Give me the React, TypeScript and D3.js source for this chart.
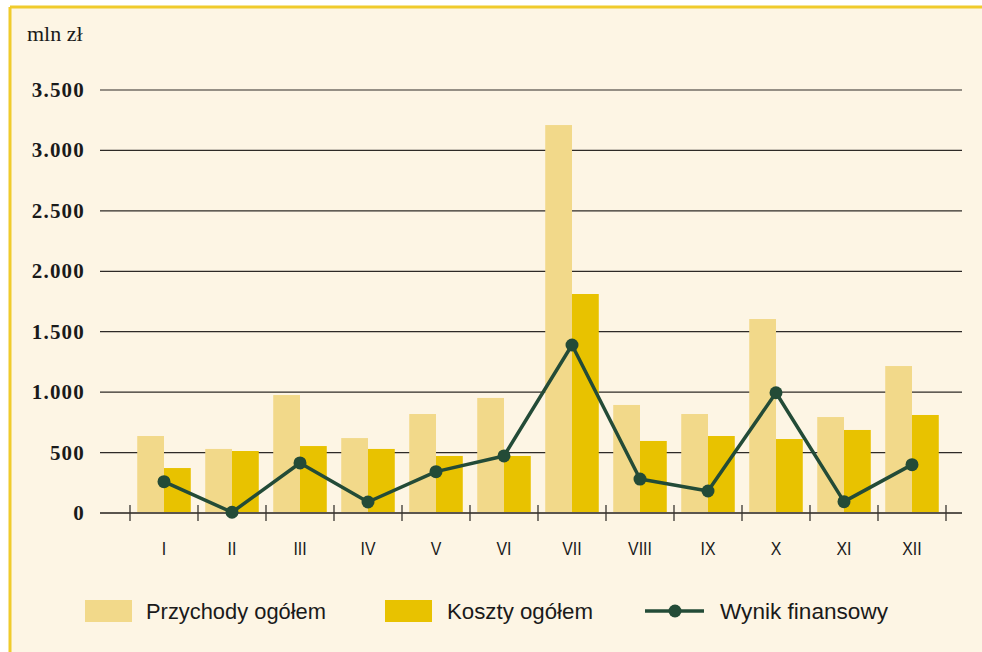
import React, { useEffect, useRef } from 'react';
import * as d3 from 'd3';

const months = ['I', 'II', 'III', 'IV', 'V', 'VI', 'VII', 'VIII', 'IX', 'X', 'XI', 'XII'];
const przychody = [637, 530, 976, 620, 819, 952, 3210, 894, 819, 1605, 794, 1216];
const koszty = [372, 513, 554, 530, 472, 472, 1812, 596, 637, 612, 687, 811];
const wynik = [259, 6, 414, 91, 342, 472, 1390, 281, 182, 995, 94, 400];
const yTicks = [0, 500, 1000, 1500, 2000, 2500, 3000, 3500];
const yTickLabels = ['0', '500', '1.000', '1.500', '2.000', '2.500', '3.000', '3.500'];

const W = 982;
const H = 652;
const BG = '#fdf5e4';
const LIGHT = '#f2d98a';
const DARK = '#e8c200';
const LINE = '#234b37';
const FRAME = '#f0cb2c';

const App: React.FC = () => {
  const svgRef = useRef<SVGSVGElement>(null);

  useEffect(() => {
    if (!svgRef.current) return;
    const svg = d3.select(svgRef.current);
    svg.selectAll('*').remove();

    // background + frame (top and left edges only)
    svg.append('rect').attr('width', W).attr('height', H).attr('fill', '#fff');
    svg.append('rect').attr('x', 10).attr('y', 7).attr('width', W - 10).attr('height', H - 7).attr('fill', BG);
    svg.append('line').attr('x1', 10).attr('y1', 7).attr('x2', W).attr('y2', 7)
      .attr('stroke', FRAME).attr('stroke-width', 3);
    svg.append('line').attr('x1', 10).attr('y1', 7).attr('x2', 10).attr('y2', H)
      .attr('stroke', FRAME).attr('stroke-width', 3);

    const x = d3.scaleBand<string>().domain(months).range([130, 946]).padding(0);
    const x1 = d3.scaleBand<string>().domain(['p', 'k']).range([0, x.bandwidth()])
      .paddingInner(0).paddingOuter(0.27);
    const y = d3.scaleLinear().domain([0, 3500]).range([513, 90]);

    // unit label
    svg.append('text').attr('x', 27).attr('y', 41)
      .attr('font-family', '"Liberation Serif", "DejaVu Serif", serif')
      .attr('font-size', 22).attr('fill', '#1a1a1a').text('mln zł');

    // gridlines
    svg.append('g').selectAll('line').data(yTicks.filter(t => t > 0)).enter().append('line')
      .attr('x1', 100).attr('x2', 962)
      .attr('y1', d => y(d)).attr('y2', d => y(d))
      .attr('stroke', '#2e2a26').attr('stroke-width', 1.2);

    // y labels
    svg.append('g').selectAll('text').data(yTicks).enter().append('text')
      .attr('x', 85).attr('y', d => y(d) + 7)
      .attr('text-anchor', 'end')
      .attr('font-family', '"Liberation Serif", "DejaVu Serif", serif')
      .attr('font-size', 21).attr('font-weight', 'bold').attr('letter-spacing', 1.2)
      .attr('fill', '#1a1a1a')
      .text((d, i) => yTickLabels[i]);

    // bars
    const bars = svg.append('g');
    bars.selectAll('.p').data(przychody).enter().append('rect')
      .attr('x', (d, i) => (x(months[i]) as number) + (x1('p') as number))
      .attr('y', d => y(d)).attr('width', x1.bandwidth()).attr('height', d => y(0) - y(d))
      .attr('fill', LIGHT);
    bars.selectAll('.k').data(koszty).enter().append('rect')
      .attr('x', (d, i) => (x(months[i]) as number) + (x1('k') as number))
      .attr('y', d => y(d)).attr('width', x1.bandwidth()).attr('height', d => y(0) - y(d))
      .attr('fill', DARK);

    // baseline axis with ticks at band edges
    svg.append('line').attr('x1', 100).attr('x2', 962).attr('y1', y(0)).attr('y2', y(0))
      .attr('stroke', '#5a554e').attr('stroke-width', 2);
    const edges = months.map(m => x(m) as number).concat([x.range()[1]]);
    svg.append('g').selectAll('line').data(edges).enter().append('line')
      .attr('x1', d => d).attr('x2', d => d).attr('y1', y(0) - 8).attr('y2', y(0) + 8)
      .attr('stroke', '#3a3530').attr('stroke-width', 1.3);

    // month labels
    svg.append('g').selectAll('text').data(months).enter().append('text')
      .attr('x', d => (x(d) as number) + x.bandwidth() / 2).attr('y', 555)
      .attr('text-anchor', 'middle')
      .attr('font-family', '"Liberation Sans", Arial, sans-serif')
      .attr('font-size', 18).attr('fill', '#1a1a1a')
      .attr('transform', d => {
        const cxm = (x(d) as number) + x.bandwidth() / 2;
        return `translate(${cxm},0) scale(0.88,1) translate(${-cxm},0)`;
      })
      .text(d => d);

    // wynik line
    const cx = (i: number) => (x(months[i]) as number) + x.bandwidth() / 2;
    const line = d3.line<number>().x((d, i) => cx(i)).y(d => y(d));
    svg.append('path').datum(wynik).attr('d', line).attr('fill', 'none')
      .attr('stroke', LINE).attr('stroke-width', 3.5).attr('stroke-linejoin', 'round');
    svg.append('g').selectAll('circle').data(wynik).enter().append('circle')
      .attr('cx', (d, i) => cx(i)).attr('cy', d => y(d)).attr('r', 6.5).attr('fill', LINE);

    // legend
    const lg = svg.append('g');
    const legendFont = '"Liberation Sans", Arial, sans-serif';
    lg.append('rect').attr('x', 85).attr('y', 600).attr('width', 47).attr('height', 22).attr('fill', LIGHT);
    lg.append('text').attr('x', 146).attr('y', 619).attr('font-family', legendFont).attr('font-size', 22)
      .attr('fill', '#1a1a1a').attr('textLength', 180).attr('lengthAdjust', 'spacingAndGlyphs')
      .text('Przychody ogółem');
    lg.append('rect').attr('x', 385).attr('y', 600).attr('width', 47).attr('height', 22).attr('fill', DARK);
    lg.append('text').attr('x', 447).attr('y', 619).attr('font-family', legendFont).attr('font-size', 22)
      .attr('fill', '#1a1a1a').attr('textLength', 146).attr('lengthAdjust', 'spacingAndGlyphs')
      .text('Koszty ogółem');
    lg.append('line').attr('x1', 645).attr('x2', 704).attr('y1', 611).attr('y2', 611)
      .attr('stroke', LINE).attr('stroke-width', 3.5);
    lg.append('circle').attr('cx', 675).attr('cy', 611).attr('r', 6.5).attr('fill', LINE);
    lg.append('text').attr('x', 720).attr('y', 619).attr('font-family', legendFont).attr('font-size', 22)
      .attr('fill', '#1a1a1a').attr('textLength', 168).attr('lengthAdjust', 'spacingAndGlyphs')
      .text('Wynik finansowy');
  }, []);

  return (
    <svg
      ref={svgRef}
      width={W}
      height={H}
      style={{ position: 'absolute', left: 0, top: 0, display: 'block' }}
    />
  );
};

export default App;
